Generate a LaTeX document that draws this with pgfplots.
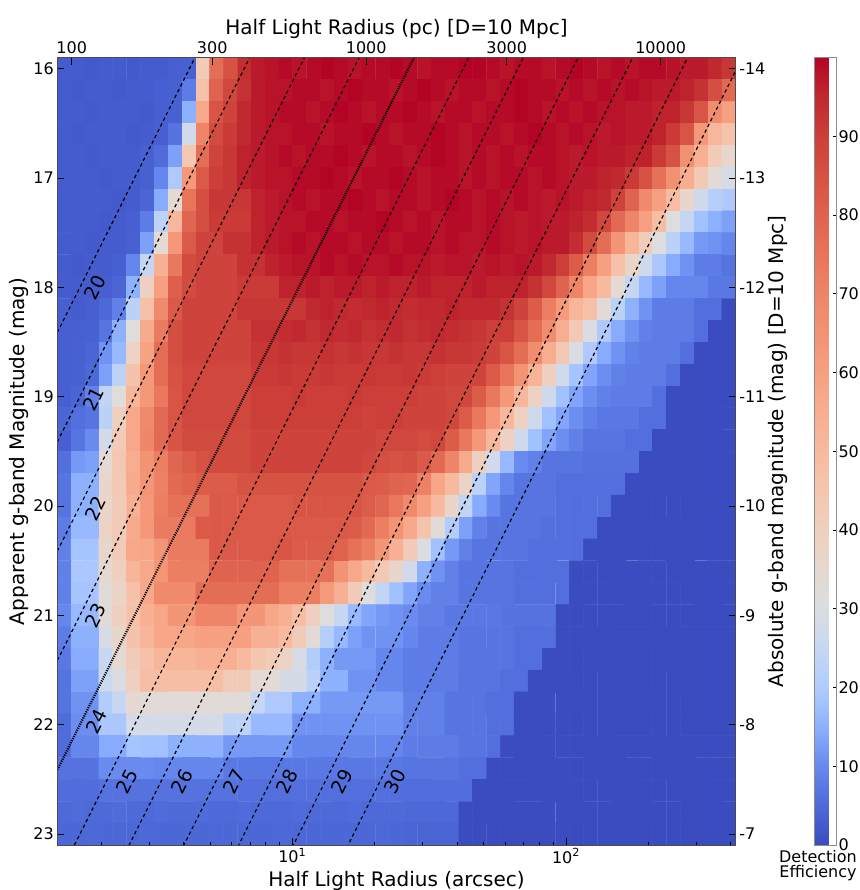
\documentclass[border=0pt]{standalone}
\usepackage{fontspec}
\setmainfont{DejaVu Sans}
\usepackage{pgfplots}
\usepackage{pgfplotstable}
\pgfplotsset{compat=1.18}

% coolwarm, placed on the efficiency scale as the colour bar of the figure shows it
\pgfplotsset{
  colormap={cwarm}{
    rgb255(0pt)=(59,76,192) rgb255(2.40pt)=(68,90,204) rgb255(4.81pt)=(77,104,215)
    rgb255(6.92pt)=(87,117,225) rgb255(9.00pt)=(98,130,234) rgb255(10.74pt)=(108,142,241)
    rgb255(12.16pt)=(119,154,247) rgb255(13.58pt)=(130,165,251) rgb255(15.00pt)=(141,176,254)
    rgb255(16.56pt)=(152,185,255) rgb255(18.13pt)=(163,194,255) rgb255(19.69pt)=(174,201,253)
    rgb255(21.79pt)=(184,208,249) rgb255(24.02pt)=(194,213,244) rgb255(26.25pt)=(204,217,238)
    rgb255(28.48pt)=(213,219,230) rgb255(31.11pt)=(221,221,221) rgb255(34.58pt)=(229,216,209)
    rgb255(38.06pt)=(236,211,197) rgb255(41.72pt)=(241,204,185) rgb255(45.63pt)=(245,196,173)
    rgb255(49.53pt)=(247,187,160) rgb255(53.67pt)=(247,177,148) rgb255(57.83pt)=(247,166,135)
    rgb255(62.31pt)=(244,154,123) rgb255(67.12pt)=(241,141,111) rgb255(71.79pt)=(236,127,99)
    rgb255(76.25pt)=(229,112,88) rgb255(80.77pt)=(222,96,77) rgb255(85.58pt)=(213,80,66)
    rgb255(90.38pt)=(203,62,56) rgb255(95.19pt)=(192,40,47) rgb255(100pt)=(180,4,38)
  },
  /pgf/number format/assume math mode=true,
  tick label style={font=\fontsize{16}{19}\selectfont},
}

% detection efficiency, one grid row per line (g = 16.0, 16.2, ... 23.0), 49 size bins each
\pgfplotstableread[row sep=\\]{
v\\
2.8\\2.8\\2.4\\2.8\\2.8\\2.4\\2.8\\2.8\\3.2\\3.6\\ 42\\77\\85\\94\\97\\98\\99\\98\\99\\100\\ 99\\98\\99\\99\\100\\99\\98\\99\\99\\100\\ 100\\99\\98\\99\\99\\98\\99\\100\\99\\98\\ 99\\98\\99\\99\\98\\97\\97\\95\\92\\
2.8\\2.4\\2.8\\2.8\\2.4\\2.8\\2.8\\3.2\\3.6\\8\\ 47\\80\\88\\93\\97\\98\\98\\99\\99\\98\\ 99\\100\\99\\99\\98\\99\\100\\99\\98\\99\\ 99\\98\\99\\100\\99\\99\\98\\99\\98\\99\\ 98\\99\\98\\97\\97\\96\\93\\86\\78\\
2.8\\2.8\\2.4\\2.8\\2.8\\2.8\\2.4\\3.2\\3.6\\15.1\\ 57\\84\\89\\95\\97\\98\\99\\99\\98\\99\\ 100\\99\\98\\99\\99\\100\\99\\98\\99\\99\\ 98\\99\\99\\100\\99\\98\\99\\98\\99\\98\\ 98\\97\\97\\96\\96\\92\\84\\67\\60\\
2.8\\2.4\\2.8\\2.8\\2.8\\2.4\\2.8\\3.2\\6.7\\27.5\\ 70\\87\\91\\95\\97\\98\\98\\99\\99\\98\\ 99\\99\\100\\99\\98\\99\\99\\100\\99\\98\\ 99\\99\\98\\99\\100\\99\\98\\99\\98\\97\\ 98\\97\\97\\96\\91\\84\\63\\51\\46\\
2.8\\2.8\\2.4\\2.8\\2.8\\2.8\\3.6\\5.4\\12.9\\44\\ 77\\89\\92\\96\\97\\98\\99\\98\\99\\99\\ 100\\99\\98\\99\\99\\98\\99\\100\\99\\98\\ 99\\98\\99\\98\\99\\99\\98\\97\\98\\97\\ 97\\96\\96\\91\\85\\66\\54\\42\\36\\
2.8\\2.8\\2.8\\2.4\\2.8\\2.8\\3.6\\9.6\\19.8\\63\\ 83\\90\\92\\96\\97\\98\\98\\99\\99\\100\\ 99\\98\\99\\99\\100\\99\\98\\99\\99\\98\\ 99\\98\\99\\99\\98\\99\\98\\97\\97\\96\\ 95\\91\\85\\76\\66\\55\\43\\33\\29\\
2.8\\2.8\\2.8\\2.8\\2.4\\2.8\\4.3\\14.4\\34\\75\\ 86\\92\\92\\92\\96\\97\\98\\99\\98\\99\\ 99\\100\\99\\98\\99\\99\\98\\99\\100\\99\\ 98\\99\\98\\99\\98\\97\\98\\97\\96\\95\\ 89\\80\\68\\60\\49\\36\\26.8\\21.4\\19.8\\
2.8\\2.8\\2.8\\2.4\\2.8\\3.2\\8\\23\\51\\79\\ 86\\91\\91\\91\\96\\97\\98\\98\\99\\99\\ 98\\99\\99\\100\\99\\98\\99\\98\\99\\99\\ 98\\99\\98\\97\\98\\97\\97\\96\\94\\88\\ 78\\70\\60\\48\\31\\24.6\\17.9\\15.1\\12.9\\
2.8\\2.8\\2.4\\2.8\\2.8\\3.6\\12.9\\34\\63\\83\\ 89\\89\\93\\93\\96\\97\\98\\99\\98\\99\\ 99\\98\\99\\99\\98\\99\\99\\98\\99\\98\\ 98\\99\\98\\97\\98\\97\\97\\94\\87\\77\\ 64\\52\\41\\31\\22.2\\16.5\\12\\11.2\\9.6\\
2.8\\2.4\\2.8\\2.8\\3.2\\9.6\\24.6\\54\\74\\87\\ 89\\89\\89\\93\\93\\96\\97\\98\\98\\99\\ 98\\99\\98\\98\\99\\98\\98\\97\\98\\98\\ 97\\98\\97\\98\\97\\95\\90\\82\\72\\60\\ 47\\37\\26.8\\19.2\\14.4\\11.2\\8\\8\\6.7\\
2.8\\2.8\\2.8\\3.2\\4.3\\15.1\\40\\60\\81\\87\\ 89\\89\\89\\91\\91\\91\\96\\96\\97\\96\\ 97\\97\\96\\97\\96\\96\\97\\96\\96\\96\\ 97\\96\\96\\96\\93\\88\\80\\70\\58\\50\\ 34\\24.6\\16.5\\12.9\\9.6\\9.6\\9.6\\7.4\\7.4\\
3.2\\2.8\\3.2\\4.9\\8.8\\22.2\\47\\68\\83\\89\\ 89\\89\\89\\92\\92\\92\\92\\92\\95\\96\\ 95\\94\\95\\96\\95\\94\\95\\95\\96\\95\\ 95\\95\\93\\89\\82\\72\\62\\52\\47\\33\\ 22.2\\15.1\\11.2\\8\\8\\8\\6\\6\\0\\
3.2\\3.2\\3.6\\7\\15.1\\32\\56\\73\\86\\89\\ 89\\89\\89\\89\\93\\93\\94\\95\\93\\95\\ 94\\95\\93\\94\\95\\93\\94\\95\\94\\93\\ 92\\90\\90\\84\\77\\67\\55\\43\\30\\19.8\\ 14.4\\11.2\\8.8\\8\\8\\8\\6\\0\\0\\
3.2\\3.6\\4.3\\11.2\\16.5\\38\\59\\77\\86\\89\\ 89\\89\\89\\89\\92\\92\\93\\92\\92\\93\\ 92\\93\\92\\92\\93\\92\\92\\93\\92\\92\\ 91\\89\\84\\77\\67\\55\\43\\30\\19.8\\14.4\\ 11.2\\8.8\\8\\8\\8\\6\\0\\0\\0\\
3.2\\3.6\\4.9\\12.9\\23\\46\\63\\77\\85\\88\\ 88\\88\\88\\88\\91\\91\\92\\91\\91\\92\\ 91\\91\\92\\91\\91\\92\\91\\90\\89\\89\\ 89\\83\\75\\65\\53\\40\\27.5\\18.5\\13.6\\10.7\\ 8.8\\8\\8\\8\\6\\0\\0\\0\\0\\
3.2\\4.3\\8.8\\23.8\\32\\52\\63\\74\\84\\88\\ 88\\88\\88\\88\\90\\90\\90\\91\\90\\90\\ 90\\91\\90\\90\\90\\90\\89\\89\\88\\88\\ 82\\74\\63\\51\\39\\26.8\\17.9\\13.6\\10.7\\8.8\\ 8\\8\\8\\6\\0\\0\\0\\0\\0\\
4.3\\6\\7\\22.2\\40\\57\\68\\78\\84\\88\\ 88\\88\\88\\88\\90\\90\\90\\90\\90\\90\\ 90\\90\\89\\90\\90\\89\\89\\89\\88\\82\\ 74\\63\\51\\39\\26.8\\17.9\\13.6\\10.7\\8.8\\7.4\\ 7.4\\7.4\\6\\6\\0\\0\\0\\0\\0\\
3.2\\7\\10.2\\28.3\\42\\57\\69\\78\\84\\87\\ 87\\87\\87\\87\\89\\89\\89\\89\\89\\89\\ 89\\89\\89\\88\\88\\88\\87\\88\\82\\74\\ 63\\51\\39\\26.8\\17.9\\13.6\\10.7\\8.8\\7\\7\\ 7\\6\\6\\0\\0\\0\\0\\0\\0\\
6\\12\\12.9\\34\\44\\55\\65\\72\\79\\82\\ 85\\87\\87\\87\\89\\89\\89\\89\\89\\89\\ 89\\89\\88\\86\\85\\86\\83\\78\\70\\56\\ 40\\27.5\\16.5\\10.2\\8.8\\7\\7\\7\\6.3\\6.3\\ 6.3\\6.3\\0\\0\\0\\0\\0\\0\\0\\
7\\15.1\\15.1\\36\\43\\56\\64\\71\\78\\80\\ 82\\82\\82\\85\\85\\85\\85\\85\\85\\85\\ 85\\85\\83\\82\\80\\79\\71\\58\\50\\38\\ 22.2\\13.6\\9.6\\7\\7\\7\\6\\6\\6\\6\\ 6\\0\\0\\0\\0\\0\\0\\0\\0\\
6.7\\15.1\\15.1\\37\\42\\54\\63\\72\\76\\76\\ 76\\83\\83\\83\\83\\83\\83\\84\\84\\84\\ 84\\84\\82\\79\\74\\68\\60\\50\\37\\23.8\\ 14.4\\10.2\\7\\7\\7\\7\\6\\6\\6\\6\\ 0\\0\\0\\0\\0\\0\\0\\0\\0\\
8\\16.5\\16.5\\38\\42\\56\\63\\73\\73\\73\\ 83\\83\\83\\83\\83\\83\\83\\83\\83\\83\\ 83\\82\\78\\72\\65\\57\\46\\33\\20.5\\12.9\\ 8.8\\7\\7\\7\\7\\6\\6\\6\\6\\0\\ 0\\0\\0\\0\\0\\0\\0\\0\\0\\
8.8\\18.5\\18.5\\36\\42\\57\\58\\64\\73\\73\\ 73\\83\\83\\83\\83\\83\\84\\82\\82\\82\\ 80\\76\\72\\64\\54\\42\\30\\17.9\\12\\8.8\\ 7\\7\\7\\7\\6\\6\\6\\6\\0\\0\\ 0\\0\\0\\0\\0\\0\\0\\0\\0\\
8.8\\19.2\\19.2\\35\\40\\52\\57\\64\\72\\72\\ 72\\80\\80\\80\\80\\80\\76\\76\\76\\76\\ 65\\57\\50\\43\\36\\27.5\\15.1\\11.2\\8.8\\7\\ 7\\7\\7\\6\\6\\6\\6\\0\\0\\0\\ 0\\0\\0\\0\\0\\0\\0\\0\\0\\
8.8\\18.5\\18.5\\33\\38\\47\\57\\68\\68\\68\\ 77\\77\\77\\77\\77\\77\\72\\72\\72\\62\\ 54\\42\\31\\23.8\\17.9\\13.6\\10.2\\8.8\\8.8\\7\\ 7\\7\\7\\6\\6\\6\\6\\0\\0\\0\\ 0\\0\\0\\0\\0\\0\\0\\0\\0\\
9.6\\16.5\\16.5\\33\\40\\47\\54\\58\\64\\64\\ 70\\70\\70\\64\\64\\58\\54\\48\\40\\31\\ 25.3\\16.5\\13.6\\12\\11.2\\10.2\\8.8\\8.8\\7.4\\7.4\\ 7.4\\7.4\\6.7\\6.7\\6.7\\6.7\\0\\0\\0\\0\\ 0\\0\\0\\0\\0\\0\\0\\0\\0\\
8\\15.1\\15.1\\29\\36\\46\\52\\58\\58\\58\\ 60\\60\\60\\60\\54\\54\\50\\42\\33\\21.4\\ 16.5\\12.9\\11.2\\11.2\\11.2\\9.6\\8\\8\\8\\7\\ 7\\7\\7\\6\\6\\6\\0\\0\\0\\0\\ 0\\0\\0\\0\\0\\0\\0\\0\\0\\
7.4\\14.4\\14.4\\25.3\\34\\42\\47\\52\\52\\52\\ 54\\54\\54\\50\\45\\42\\38\\29\\20.5\\15.1\\ 12\\12\\12\\9.6\\9.6\\8\\8\\8\\8\\7\\ 7\\7\\7\\6\\6\\0\\0\\0\\0\\0\\ 0\\0\\0\\0\\0\\0\\0\\0\\0\\
6.7\\12.9\\12.9\\26.1\\30\\40\\48\\48\\48\\48\\ 48\\48\\42\\42\\34\\34\\28.3\\28.3\\22.2\\15.1\\ 15.1\\11.2\\11.2\\9.6\\9.6\\8\\8\\8\\8\\7\\ 7\\7\\6\\6\\0\\0\\0\\0\\0\\0\\ 0\\0\\0\\0\\0\\0\\0\\0\\0\\
6.7\\11.2\\11.2\\20.5\\25.3\\35\\33\\33\\33\\33\\ 33\\33\\33\\33\\25.3\\19.8\\19.8\\15.1\\15.1\\12\\ 12\\12\\12\\12\\12\\8.8\\8.8\\8.8\\7\\7\\ 7\\6\\6\\0\\0\\0\\0\\0\\0\\0\\ 0\\0\\0\\0\\0\\0\\0\\0\\0\\
5.4\\10.7\\10.7\\19.2\\19.2\\28.3\\28.3\\28.3\\28.3\\28.3\\ 28.3\\28.3\\23\\23\\16.5\\16.5\\16.5\\11.2\\11.2\\11.2\\ 11.2\\11.2\\11.2\\11.2\\11.2\\8.8\\8.8\\8.8\\7\\7\\ 7\\6\\6\\0\\0\\0\\0\\0\\0\\0\\ 0\\0\\0\\0\\0\\0\\0\\0\\0\\
5.4\\9.6\\9.6\\14.4\\14.4\\18.5\\17.9\\17.9\\15.1\\15.1\\ 15.1\\15.1\\12\\12\\12\\12\\12\\9.6\\9.6\\9.6\\ 9.6\\9.6\\9.6\\9.6\\9.6\\8\\8\\8\\8\\7\\ 7\\6\\0\\0\\0\\0\\0\\0\\0\\0\\ 0\\0\\0\\0\\0\\0\\0\\0\\0\\
6.5\\6.5\\6.5\\10.2\\10.2\\10.2\\10.2\\9.6\\9.6\\9.6\\ 9.6\\9.6\\7.4\\7.4\\7.4\\7.4\\7.4\\7.4\\7.4\\7.4\\ 7.4\\7.4\\7.4\\7.4\\7.4\\7\\7\\7\\7\\6\\ 6\\0\\0\\0\\0\\0\\0\\0\\0\\0\\ 0\\0\\0\\0\\0\\0\\0\\0\\0\\
5.6\\5.6\\5.6\\6.5\\6.5\\6.5\\6.5\\6.5\\6.5\\6.5\\ 6.5\\6.5\\6.5\\6\\6\\6\\6\\6\\6\\6\\ 6\\6\\6\\6\\6\\5.8\\5.8\\5.8\\5.8\\5.8\\ 0\\0\\0\\0\\0\\0\\0\\0\\0\\0\\ 0\\0\\0\\0\\0\\0\\0\\0\\0\\
5.1\\5.4\\5.1\\5.1\\5.4\\5.1\\5.1\\5.4\\5.1\\5.1\\ 5.4\\5.1\\5.1\\5.4\\5.1\\5.1\\5.1\\5.4\\5.1\\5.1\\ 5.1\\5.4\\5.1\\5.1\\5.1\\4.9\\4.9\\4.9\\4.9\\0\\ 0\\0\\0\\0\\0\\0\\0\\0\\0\\0\\ 0\\0\\0\\0\\0\\0\\0\\0\\0\\
4.6\\4.6\\4.9\\4.6\\4.6\\4.6\\4.9\\4.6\\4.6\\4.6\\ 4.6\\4.9\\4.6\\4.6\\4.6\\4.6\\4.9\\4.6\\4.6\\4.6\\ 4.6\\4.6\\4.6\\4.9\\4.6\\4.3\\4.3\\4.3\\4.3\\0\\ 0\\0\\0\\0\\0\\0\\0\\0\\0\\0\\ 0\\0\\0\\0\\0\\0\\0\\0\\0\\
}\effdata

\begin{document}
\begin{tikzpicture}
\useasboundingbox (-57.3pt,-45pt) rectangle (801.7pt,845pt);

\begin{axis}[
    at={(0pt,0pt)}, anchor=south west,
    scale only axis, width=678.4pt, height=787.3pt,
    xmin=0.1414, xmax=2.6200, ymin=15.9, ymax=23.1,
    y dir=reverse,
    enlargelimits=false,
    axis on top,
    colormap name=cwarm,
    point meta min=0, point meta max=100,
    xtick={1,2}, xticklabels={10\textsuperscript{1},10\textsuperscript{2}},
    minor xtick={0.30103,0.47712,0.60206,0.69897,0.77815,0.84510,0.90309,0.95424,
                 1.30103,1.47712,1.60206,1.69897,1.77815,1.84510,1.90309,1.95424,
                 2.30103,2.47712,2.60206},
    ytick={16,17,18,19,20,21,22,23},
    xtick pos=left, ytick pos=left,
    tick align=inside,
    major tick length=7pt, minor tick length=3.5pt,
    every tick/.style={black, line width=0.8pt},
    axis line style={black!70, line width=1pt},
    colorbar,
    colorbar style={
        at={(parent axis.north east)}, anchor=north west, xshift=70.3pt,
        scale only axis, width=22.3pt, height=787.3pt,
        ytick={0,10,20,30,40,50,60,70,80,90},
        ytick pos=right, yticklabel pos=right,
        tick align=inside, major tick length=4pt,
        yticklabel style={inner xsep=1.5pt},
        every tick/.style={black, line width=0.8pt},
        axis line style={black!45, line width=0.8pt},
    },
]
\addplot[matrix plot*, mesh/cols=49, point meta=explicit]
    table[x index=0, y index=0,
          x expr={0.16669+0.050584*mod(\coordindex,49)},
          y expr={16+0.2*(\coordindex-mod(\coordindex,49))/49},
          meta=v] {\effdata};

% lines of constant surface brightness
\pgfplotsset{sbline/.style={black, line width=1.2pt, dash pattern=on 3.4pt off 3pt}}
\addplot[sbline] coordinates {(0.1414,18.413) (2.62,6.02)};
\addplot[sbline] coordinates {(0.1414,19.413) (2.62,7.02)};
\addplot[sbline] coordinates {(0.1414,20.413) (2.62,8.02)};
\addplot[sbline] coordinates {(0.1414,21.413) (2.62,9.02)};
\addplot[black, line width=2.2pt, dash pattern=on 1.1pt off 1.2pt]
    coordinates {(0.1414,22.413) (2.62,10.02)};
\addplot[sbline] coordinates {(0.1414,23.413) (2.62,11.02)};
\addplot[sbline] coordinates {(0.1414,24.413) (2.62,12.02)};
\addplot[sbline] coordinates {(0.1414,25.413) (2.62,13.02)};
\addplot[sbline] coordinates {(0.1414,26.413) (2.62,14.02)};
\addplot[sbline] coordinates {(0.1414,27.413) (2.62,15.02)};
\addplot[sbline] coordinates {(0.1414,28.413) (2.62,16.02)};

\begin{scope}[every node/.style={rotate=63.4, inner sep=0pt, font=\fontsize{19}{21}\selectfont}]
\node at (axis cs:0.279,18.00) {20};
\node at (axis cs:0.274,19.02) {21};
\node at (axis cs:0.280,20.02) {22};
\node at (axis cs:0.280,21.00) {23};
\node at (axis cs:0.285,21.97) {24};
\node at (axis cs:0.396,22.52) {25};
\node at (axis cs:0.597,22.52) {26};
\node at (axis cs:0.786,22.52) {27};
\node at (axis cs:0.980,22.52) {28};
\node at (axis cs:1.181,22.52) {29};
\node at (axis cs:1.375,22.52) {30};
\end{scope}
\end{axis}

% physical size (top) and absolute magnitude (right)
\begin{axis}[
    at={(0pt,0pt)}, anchor=south west,
    scale only axis, width=678.4pt, height=787.3pt,
    xmode=log, xmin=89.35, xmax=17977,
    ymin=-14.1, ymax=-6.9, y dir=reverse,
    axis x line*=top, axis y line*=right,
    xtick={100,300,1000,3000,10000}, xticklabels={100,300,1000,3000,10000},
    xminorticks=false,
    ytick={-14,-13,-12,-11,-10,-9,-8,-7},
    yticklabels={-14,-13,-12,-11,-10,-9,-8,-7},
    tick align=inside, major tick length=7pt,
    every tick/.style={black, line width=0.8pt},
    axis line style={black!70, line width=1pt},
]
\end{axis}

\begin{scope}[every node/.style={font=\fontsize{20}{24}\selectfont, anchor=base}]
\node at (339.2pt,-41.5pt) {Half Light Radius (arcsec)};
\node at (339.2pt,810pt) {Half Light Radius (pc) [D=10 Mpc]};
\node[rotate=90] at (-32.8pt,393.6pt) {Apparent g-band Magnitude (mag)};
\node[rotate=90] at (725.7pt,393.6pt) {Absolute g-band magnitude (mag) [D=10 Mpc]};
\end{scope}
\node[font=\fontsize{16}{19}\selectfont, anchor=base] at (760.7pt,-18pt) {Detection};
\node[font=\fontsize{16}{19}\selectfont, anchor=base] at (760.7pt,-32pt) {Efficiency};
\end{tikzpicture}
\end{document}
